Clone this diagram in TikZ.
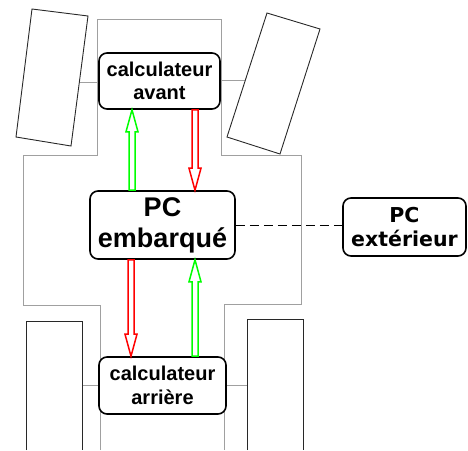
\documentclass[tikz,border=0pt]{standalone}
\usepackage{fontspec}
\setmainfont{Liberation Sans}
\newfontfamily\dejab{DejaVu Sans}
\usetikzlibrary{calc}
\definecolor{bodygray}{RGB}{160,160,160}
\definecolor{wheelgray}{RGB}{40,40,40}
\definecolor{agreen}{RGB}{0,255,0}
\definecolor{ared}{RGB}{255,0,0}
\newcommand\fatarrow[3]{%
  \draw[#1] let \p1=(#2), \p2=(#3), \p3=($(\x1,\y2)!22pt!(\x1,\y1)$) in
    (\x1-3pt,\y1) -- (\x1-3pt,\y3) -- (\x1-6pt,\y3) -- (\x1,\y2) --
    (\x1+6pt,\y3) -- (\x1+3pt,\y3) -- (\x1+3pt,\y1) -- cycle;}
\begin{document}
\begin{tikzpicture}[x=1pt,y=-1pt,
  bodyline/.style={draw=bodygray, line width=1pt},
  wheel/.style={draw=wheelgray, line width=0.9pt},
  box/.style={draw=black, fill=white, line width=1.6pt, rounded corners=8pt,
    align=center, inner sep=0pt, font=\bfseries},
  fat/.style={line width=1.5pt, line join=miter},
  link/.style={draw=black, line width=1pt, dash pattern=on 9pt off 5pt}]
\useasboundingbox (0,0) rectangle (468,450);
% car body
\draw[bodyline] (100,450) -- (100,305) -- (23,305) -- (23,155) -- (97,155) -- (97,19)
  -- (221,19) -- (221,155) -- (301,155) -- (301,304) -- (224,304) -- (224,450);
% axles
\draw[bodyline] (80,82) -- (97,82);
\draw[bodyline] (221,80) -- (245,80);
\draw[bodyline] (82,385) -- (100,385);
\draw[bodyline] (224,385) -- (247,385);
% wheels
\draw[wheel] (32,9) -- (88,16) -- (71,146) -- (16,137) -- cycle;
\draw[wheel] (267,13) -- (320,29) -- (280,154) -- (227,137) -- cycle;
\draw[wheel] (26,450) -- (26,321) -- (82,321) -- (82,450);
\draw[wheel] (247,450) -- (247,319) -- (303,319) -- (303,450);
% nodes
\node[box, minimum width=121pt, minimum height=56pt, font=\bfseries\fontsize{20}{23}\selectfont]
  (ca) at (159.5,81) {calculateur\\avant};
\node[box, minimum width=145pt, minimum height=68pt, font=\bfseries\fontsize{27}{31}\selectfont]
  (pc) at (162.5,225) {PC\\embarqué};
\node[box, minimum width=123pt, minimum height=58pt, font=\dejab\bfseries\fontsize{20.5}{24}\selectfont]
  (pe) at (404.5,227) {PC\\extérieur};
\node[box, minimum width=127pt, minimum height=57pt, font=\bfseries\fontsize{20}{24}\selectfont]
  (cr) at (162.5,385.5) {calculateur\\arrière};
% connectors
\draw[link] (pc.east) -- (pe.west |- pc.east);
\fatarrow{fat, draw=agreen}{$(pc.north)+(-30.5,0)$}{ca.south}
\fatarrow{fat, draw=ared}{$(ca.south)+(35.5,0)$}{pc.north}
\fatarrow{fat, draw=ared}{$(pc.south)+(-31.5,0)$}{cr.north}
\fatarrow{fat, draw=agreen}{$(cr.north)+(32.5,0)$}{pc.south}
\end{tikzpicture}
\end{document}
